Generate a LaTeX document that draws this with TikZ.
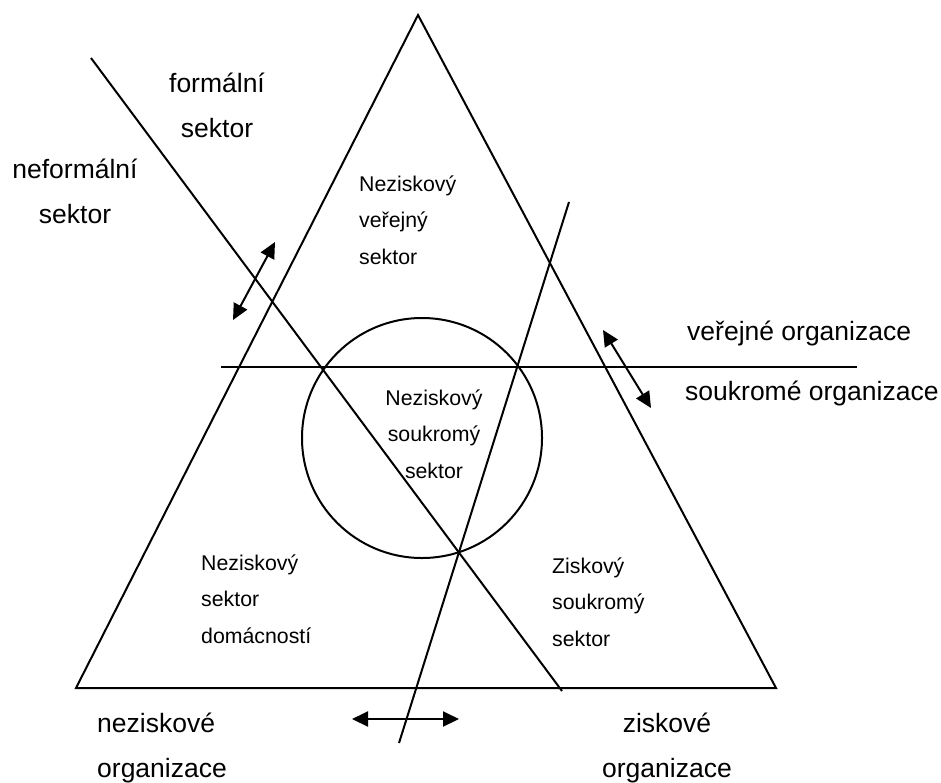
\documentclass[tikz,border=0pt]{standalone}
\usepackage{fontspec}
\setmainfont{Liberation Sans}
\usetikzlibrary{arrows.meta}
\begin{document}
\begin{tikzpicture}[x=1pt,y=-1pt,
  ln/.style={line width=2pt,black},
  dbl/.style={line width=2pt,{Triangle[length=16pt,width=15pt]}-{Triangle[length=16pt,width=15pt]}},
  big/.style={inner sep=0pt,font=\fontsize{26.5}{45}\selectfont},
  small/.style={inner sep=0pt,font=\fontsize{21.3}{36.5}\selectfont}]
\useasboundingbox (0,0) rectangle (941,782);
% triangle
\coordinate (apex) at (418,15);
\coordinate (bl) at (76,688);
\coordinate (br) at (776,688);
\draw[ln,line join=miter] (apex) -- (bl) -- (br) -- cycle;
% dividing lines
\coordinate (d1) at (91,58);
\coordinate (d2) at (562,691);
\draw[ln] (d1) -- (d2);
\coordinate (a1) at (399,743);
\coordinate (a2) at (569,202);
\draw[ln] (a1) -- (a2);
\coordinate (h1) at (221,367);
\coordinate (h2) at (857,367);
\draw[ln] (h1) -- (h2);
% circle
\coordinate (cc) at (422,438);
\draw[ln] (cc) circle[radius=120];
% arrows
\coordinate (l1) at (233,320); \coordinate (l2) at (275,242);
\draw[dbl] (l1) -- (l2);
\coordinate (r1) at (603,330); \coordinate (r2) at (651,408);
\draw[dbl] (r1) -- (r2);
\coordinate (b1) at (352,719); \coordinate (b2) at (459,719);
\draw[dbl] (b1) -- (b2);
% labels (base anchor = baseline of last line)
\node[big,align=center,anchor=base] (formal) at (217,137) {formální\\sektor};
\node[big,align=center,anchor=base] (neformal) at (75,223) {neformální\\sektor};
\node[small,align=left,anchor=base west] (nvs) at (359,264) {Neziskový\\veřejný\\sektor};
\node[small,align=center,anchor=base] (nss) at (434,478) {Neziskový\\soukromý\\sektor};
\node[small,align=left,anchor=base west] (nsd) at (201,643) {Neziskový\\sektor\\domácností};
\node[small,align=left,anchor=base west] (zss) at (552,646) {Ziskový\\soukromý\\sektor};
\node[big,anchor=base west] (vo) at (687,340) {veřejné organizace};
\node[big,anchor=base west] (so) at (685,400) {soukromé organizace};
\node[big,align=left,anchor=base west] (no) at (97,777) {neziskové\\organizace};
\node[big,align=center,anchor=base] (zo) at (667,777) {ziskové\\organizace};
\end{tikzpicture}
\end{document}
